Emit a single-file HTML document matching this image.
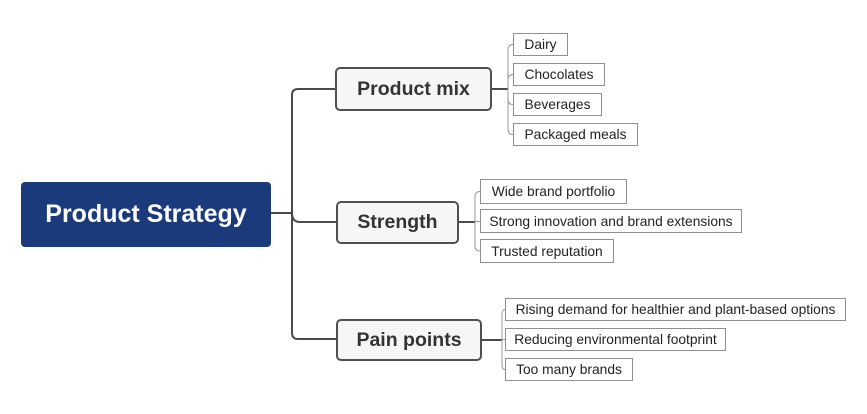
<!DOCTYPE html>
<html>
<head>
<meta charset="utf-8">
<style>
  html, body { margin:0; padding:0; background:#fff; }
  body { width:867px; height:414px; position:relative; overflow:hidden; font-family:"Liberation Sans", Arial, sans-serif; }
  .b { position:absolute; box-sizing:border-box; display:flex; align-items:center; justify-content:center; white-space:nowrap; }
  .root { left:21px; top:182px; width:250px; height:65px; background:#1a3a7b; border-radius:4px; color:#fff; font-weight:bold; font-size:25px; }
  .sub { background:#f6f6f6; border:2px solid #505050; border-radius:5px; color:#333; font-weight:bold; font-size:19.5px; }
  .leaf { background:#fff; border:1px solid #8f8f8f; color:#222; font-size:13.8px; }
  svg { position:absolute; left:0; top:0; }
</style>
</head>
<body>
<svg width="867" height="414" viewBox="0 0 867 414">
  <g fill="none" stroke="#4a4a4a" stroke-width="2">
    <path d="M336,89 L298,89 Q292,89 292,95 L292,333 Q292,339 298,339 L337,339"/>
    <path d="M271,213 L292,213"/>
    <path d="M292,213 Q292,222 300,222 L337,222"/>
    <path d="M491,89 L508,89"/>
    <path d="M458,222 L475,222"/>
    <path d="M481,340 L502,340"/>
  </g>
  <g fill="none" stroke="#999" stroke-width="1">
    <path d="M513,44.5 Q508,44.5 508,50 L508,129 Q508,134.5 513,134.5"/>
    <path d="M508,80 Q508,74.5 513,74.5"/>
    <path d="M508,99 Q508,104.5 513,104.5"/>
    <path d="M480,191.5 Q475,191.5 475,197 L475,246 Q475,251 480,251"/>
    <path d="M475,221.5 L480,221.5"/>
    <path d="M505,309.5 Q502,309.5 502,314 L502,365 Q502,369.5 505,369.5"/>
    <path d="M502,339.5 L505,339.5"/>
  </g>
</svg>

<div class="b root">Product Strategy</div>

<div class="b sub" style="left:335px;top:67px;width:157px;height:44px;">Product mix</div>
<div class="b sub" style="left:336px;top:201px;width:123px;height:43px;">Strength</div>
<div class="b sub" style="left:336px;top:319px;width:146px;height:42px;">Pain points</div>

<div class="b leaf" style="left:513px;top:33px;width:55px;height:23px;">Dairy</div>
<div class="b leaf" style="left:513px;top:63px;width:92px;height:23px;">Chocolates</div>
<div class="b leaf" style="left:513px;top:93px;width:89px;height:23px;">Beverages</div>
<div class="b leaf" style="left:513px;top:123px;width:125px;height:23px;">Packaged meals</div>

<div class="b leaf" style="left:480px;top:179px;width:147px;height:25px;">Wide brand portfolio</div>
<div class="b leaf" style="left:480px;top:209px;width:262px;height:24px;">Strong innovation and brand extensions</div>
<div class="b leaf" style="left:480px;top:239px;width:134px;height:24px;">Trusted reputation</div>

<div class="b leaf" style="left:505px;top:298px;width:341px;height:23px;">Rising demand for healthier and plant-based options</div>
<div class="b leaf" style="left:505px;top:328px;width:221px;height:23px;">Reducing environmental footprint</div>
<div class="b leaf" style="left:505px;top:358px;width:128px;height:23px;">Too many brands</div>
</body>
</html>
